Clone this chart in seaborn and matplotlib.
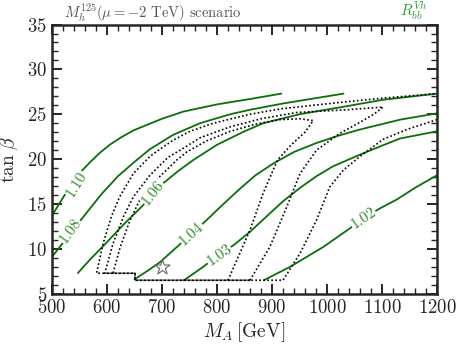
import numpy as np
import matplotlib
matplotlib.use("Agg")
import matplotlib.pyplot as plt
import seaborn as sns

# green R_bb^Vh contours (M_A [GeV], tan beta)
labels = ["1.10", "1.08", "1.06", "1.04", "1.03", "1.02"]
c110_x = [500, 530, 551, 570, 587, 605, 625, 648, 700, 739, 800, 860, 917]
c110_y = [13.7, 16.7, 18.5, 19.7, 20.7, 21.6, 22.4, 23.2, 24.5, 25.3, 26.1, 26.7, 27.3]
c108_x = [500, 533, 560, 590, 620, 654, 678, 720, 769, 824, 860, 920, 980, 1030]
c108_y = [9.1, 11.7, 13.8, 16.1, 18.1, 19.9, 21.1, 22.7, 24.0, 25.0, 25.5, 26.2, 26.8, 27.3]
c106_x = [547, 569, 593, 630, 663, 684, 702, 730, 757, 800, 850, 884, 950, 1036, 1100, 1200]
c106_y = [7.3, 8.8, 10.3, 12.7, 14.7, 16.1, 17.3, 18.7, 19.9, 21.6, 23.1, 24.0, 25.0, 25.9, 26.6, 27.3]
c104_x = [650, 675, 696, 727, 754, 781, 810, 840, 870, 902, 940, 981, 1020, 1060, 1133, 1200]
c104_y = [6.6, 7.6, 8.5, 10.2, 11.7, 13.2, 14.9, 16.6, 18.2, 19.5, 20.8, 21.8, 22.6, 23.3, 24.4, 25.1]
c103_x = [740, 775, 802, 830, 860, 890, 920, 951, 981, 1011, 1060, 1100, 1133, 1200]
c103_y = [6.5, 8.0, 9.3, 10.4, 11.9, 13.6, 15.3, 16.8, 18.1, 19.2, 20.5, 21.5, 22.3, 23.1]
c102_x = [885, 933, 993, 1042, 1066, 1096, 1127, 1160, 1200]
c102_y = [6.5, 8.0, 10.2, 12.3, 13.4, 14.5, 15.5, 16.8, 18.2]

# contour label positions (M_A, tan beta) and angles
label_x = [544, 533, 684, 754, 804, 1066]
label_y = [17.2, 12.0, 16.2, 11.7, 9.3, 13.4]
label_rot = [58, 54, 52, 42, 35, 34]

# dotted region boundaries
d1_x = [1200, 1145, 1102, 1060, 1030, 1005, 981, 951, 920, 651, 651, 581, 593, 608, 623,
        648, 678, 696, 720, 751, 793, 860, 915, 1036, 1102, 1200]
d1_y = [24.4, 23.3, 22.2, 20.3, 18.8, 16.9, 13.2, 9.5, 6.5, 6.5, 7.28, 7.28, 10.6, 13.6, 15.8,
        18.4, 20.3, 21.1, 22.1, 23.1, 24.0, 25.0, 25.6, 26.4, 26.8, 27.3]
d2_x = [860, 896, 927, 951, 981, 1024, 1060, 1085, 1102, 1080, 1036, 945, 880, 824, 770,
        733, 711, 678, 648, 630, 611, 596, 651, 651, 860]
d2_y = [6.5, 10.2, 14.7, 18.4, 21.0, 22.9, 24.1, 25.0, 25.8, 25.7, 25.5, 25.2, 24.5, 23.6, 22.4,
        21.0, 20.2, 18.2, 15.8, 13.6, 10.6, 7.28, 7.28, 6.5, 6.5]
d3_x = [820, 840, 860, 884, 910, 935, 960, 975, 950, 914, 870, 824, 780, 745, 727,
        690, 660, 642, 624, 611]
d3_y = [6.5, 9.3, 12.1, 16.2, 19.9, 21.6, 23.0, 24.3, 24.5, 24.4, 23.9, 23.1, 22.0, 20.8, 19.9,
        17.7, 15.5, 13.2, 10.2, 7.28]

star_x = [700]
star_y = [8.0]

sns.set_style("ticks")
plt.rcParams["font.family"] = ["cmr10", "DejaVu Serif"]
plt.rcParams["mathtext.fontset"] = "cm"
plt.rcParams["axes.formatter.use_mathtext"] = True
plt.rcParams["axes.unicode_minus"] = False

GREEN = "#0b6e0b"
LBL = "#2e8b2e"

fig = plt.figure(figsize=(4.63, 3.48), dpi=100)
ax = fig.add_axes([0.1123, 0.156, 0.8315, 0.7735])

curves = [(c110_x, c110_y), (c108_x, c108_y), (c106_x, c106_y),
          (c104_x, c104_y), (c103_x, c103_y), (c102_x, c102_y)]
for cx, cy in curves:
    sns.lineplot(x=cx, y=cy, sort=False, estimator=None, color=GREEN, lw=1.3, ax=ax)

for dx, dy in [(d1_x, d1_y), (d2_x, d2_y), (d3_x, d3_y)]:
    sns.lineplot(x=dx, y=dy, sort=False, estimator=None, color="black", lw=1.2,
                 linestyle=(0, (1, 1.4)), ax=ax)

for s, lx, ly, r in zip(labels, label_x, label_y, label_rot):
    ax.text(lx, ly, s, rotation=r, rotation_mode="anchor", ha="center", va="center",
            color=LBL, fontsize=11, zorder=5,
            bbox=dict(facecolor="white", edgecolor="none", pad=0.3))

ax.scatter(star_x, star_y, marker="*", s=130, facecolors="white",
           edgecolors="#666666", linewidths=0.8, zorder=6)

ax.set_xlim(500, 1200)
ax.set_ylim(5, 35)
ax.set_xticks(np.arange(500, 1201, 100))
ax.set_yticks(np.arange(5, 36, 5))
ax.set_xticks(np.arange(500, 1201, 20), minor=True)
ax.set_yticks(np.arange(5, 36, 1), minor=True)
ax.tick_params(which="both", direction="in", top=True, right=True, labelsize=13.5)
ax.tick_params(which="major", length=7, width=1.4)
ax.tick_params(which="minor", length=4, width=1.0)
for sp in ax.spines.values():
    sp.set_linewidth(1.8)

ax.set_xlabel(r"$M_A\,$[GeV]", fontsize=14)
ax.set_ylabel(r"$\tan\,\beta$", fontsize=14)
ax.xaxis.set_label_coords(0.5, -0.10)
ax.yaxis.set_label_coords(-0.083, 0.5)

ax.text(0.03, 1.026, r"$M_h^{125}(\mu = -2$ TeV$)$ scenario", transform=ax.transAxes,
        ha="left", va="baseline", fontsize=10.5, color="#555555")
ax.text(0.975, 1.033, r"$R_{bb}^{Vh}$", transform=ax.transAxes,
        ha="right", va="baseline", fontsize=11, color="#2e9b2e")

fig.savefig("out.png", dpi=100)
